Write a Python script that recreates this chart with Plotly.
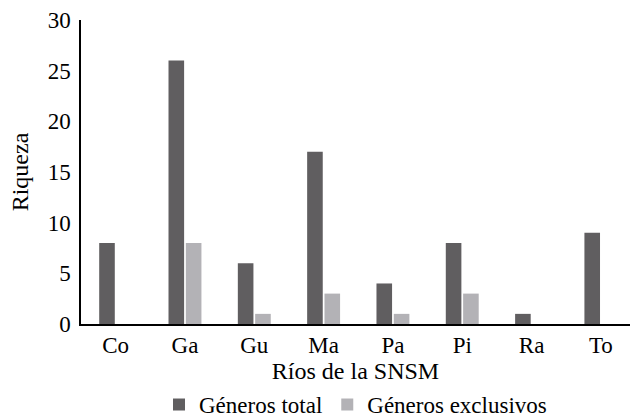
import plotly.graph_objects as go

categories = ["Co", "Ga", "Gu", "Ma", "Pa", "Pi", "Ra", "To"]
generos_total = [8, 26, 6, 17, 4, 8, 1, 9]
generos_exclusivos = [0, 8, 1, 3, 1, 3, 0, 0]
y_ticks = [0, 5, 10, 15, 20, 25, 30]

FAM = "Liberation Serif, Times New Roman, serif"
tick_font = dict(family=FAM, size=23, color="black")
title_font = dict(family=FAM, size=24, color="black")

fig = go.Figure()
fig.add_trace(go.Bar(x=categories, y=generos_total, name="Géneros total",
                     marker=dict(color="#605e60", line=dict(width=0))))
fig.add_trace(go.Bar(x=categories, y=generos_exclusivos, name="Géneros exclusivos",
                     marker=dict(color="#b3b2b6", line=dict(width=0))))

fig.update_layout(
    width=630, height=420,
    margin=dict(l=81, r=0, t=20, b=96, autoexpand=False),
    paper_bgcolor="white", plot_bgcolor="white",
    font=tick_font,
    barmode="group", bargap=0.5, bargroupgap=0.1,
    showlegend=True,
    legend=dict(orientation="h", x=0.50, xanchor="center", y=-0.265, yanchor="middle",
                font=tick_font, itemwidth=30, traceorder="normal"),
    xaxis=dict(title=dict(text="Ríos de la SNSM", standoff=4, font=title_font),
               range=[-0.5, 7.42],
               showline=True, linecolor="black", linewidth=1.5, ticks="",
               ticklabelstandoff=0, showgrid=False, tickfont=tick_font),
    yaxis=dict(title=dict(text="Riqueza", standoff=12, font=title_font),
               range=[0, 30], tickvals=y_ticks,
               showline=True, linecolor="black", linewidth=1.5, ticks="",
               ticklabelstandoff=4, showgrid=False, zeroline=False, tickfont=tick_font),
)
fig.write_html("out.html", config={"displayModeBar": False},
               post_script="document.body.style.margin='0';document.body.style.overflow='hidden';")
